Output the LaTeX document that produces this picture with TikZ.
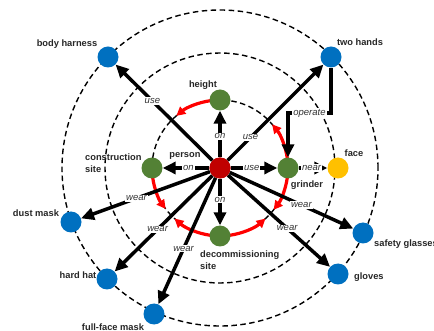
\documentclass[tikz,border=0pt]{standalone}
\usepackage{fontspec}
\setmainfont{Liberation Sans}
\usetikzlibrary{arrows.meta}
\definecolor{cred}{HTML}{C00000}
\definecolor{cgreen}{HTML}{538135}
\definecolor{cblue}{HTML}{0070C0}
\definecolor{cyellow}{HTML}{FFC000}
\definecolor{cline}{HTML}{FF0000}
\begin{document}
\begin{tikzpicture}[x=1pt,y=-1pt,
  dot/.style={circle,minimum size=21pt,inner sep=0pt},
  pers/.style={dot,fill=cred},
  ctx/.style={dot,fill=cgreen},
  ppe/.style={dot,fill=cblue},
  haz/.style={dot,fill=cyellow},
  dashcirc/.style={line width=1.4pt,dash pattern=on 5.5pt off 3.5pt},
  arr/.style={line width=3.5pt,-{Triangle[length=13pt,width=12pt]}},
  redarr/.style={line width=3.2pt,draw=cline,-{Triangle[length=9pt,width=9pt]}},
  lab/.style={fill=white,inner sep=1pt,font=\fontsize{9.5}{11}\selectfont\itshape,text=black!80},
  ttl/.style={inner sep=0pt,font=\fontsize{9.3}{12.5}\selectfont\bfseries,text=black!85}]
\useasboundingbox (0,0) rectangle (434,331);
\coordinate (C) at (220,168);
% dashed circles
\draw[dashcirc] (C) circle[radius=158pt];
\draw[dashcirc] (C) circle[radius=115pt];
\draw[dashcirc] (C) circle[radius=68pt];
% red arcs
\draw[redarr] ([shift={(98:68pt)}]C) arc[start angle=98,end angle=130,radius=68pt];
\draw[redarr] ([shift={(188:68pt)}]C) arc[start angle=188,end angle=217,radius=68pt];
\draw[redarr] ([shift={(262:68pt)}]C) arc[start angle=262,end angle=228,radius=68pt];
\draw[redarr] ([shift={(278:68pt)}]C) arc[start angle=278,end angle=312,radius=68pt];
\draw[redarr] ([shift={(-8:68pt)}]C) arc[start angle=-8,end angle=-38,radius=68pt];
\draw[redarr] ([shift={(8:68pt)}]C) arc[start angle=8,end angle=40,radius=68pt];
% nodes
\node[pers] (P) at (C) {};
\node[ctx] (H) at (220,100) {};
\node[ctx] (CS) at (152,168) {};
\node[ctx] (G) at (288,168) {};
\node[ctx] (D) at (220,236) {};
\node[haz] (F) at (338,168) {};
\node[ppe] (BH) at (108,57) {};
\node[ppe] (TH) at (331,57) {};
\node[ppe] (DM) at (71,222) {};
\node[ppe] (HH) at (107,279) {};
\node[ppe] (FF) at (154,314) {};
\node[ppe] (SG) at (363,233) {};
\node[ppe] (GL) at (338,274) {};
% connectors
\draw[arr] (P) -- (H) node[lab,pos=0.45]{on};
\draw[arr] (P) -- (CS) node[lab,pos=0.45]{on};
\draw[arr] (P) -- (G) node[lab,pos=0.45]{use};
\draw[arr] (P) -- (D) node[lab,pos=0.45]{on};
\draw[arr] (P) -- (BH) node[lab,pos=0.62]{use};
\draw[arr] (P) -- (TH) node[lab,pos=0.24]{use};
\draw[arr] (P) -- (DM) node[lab,pos=0.57]{wear};
\draw[arr] (P) -- (HH) node[lab,pos=0.56]{wear};
\draw[arr] (P) -- (FF) node[lab,pos=0.56]{wear};
\draw[arr] (P) -- (SG) node[lab,pos=0.58]{wear};
\draw[arr] (P) -- (GL) node[lab,pos=0.58]{wear};
\draw[arr] (G) -- (F) node[lab,pos=0.45]{near};
\coordinate (OPC) at (331,113);
\draw[arr] (TH.south) -- (OPC) -| (G.north) node[lab,pos=0.25]{operate};
\node[pers] at (P) {};
% titles
\node[ttl] (tBH) at (67,44) {body harness};
\node[ttl] (tTH) at (360,42) {two hands};
\node[ttl] (tH) at (203,85) {height};
\node[ttl,align=left,anchor=west] (tCS) at (85,163) {construction\\site};
\node[ttl] (tP) at (185,156) {person};
\node[ttl] (tG) at (307,185) {grinder};
\node[ttl] (tF) at (354,153) {face};
\node[ttl,align=left,anchor=west] (tD) at (200,260) {decommissioning\\site};
\node[ttl] (tDM) at (36,213) {dust mask};
\node[ttl] (tHH) at (78,275) {hard hat};
\node[ttl] (tFF) at (113,327) {full-face mask};
\node[ttl,anchor=west] (tSG) at (374,244) {safety glasses};
\node[ttl,anchor=west] (tGL) at (354,277) {gloves};
\end{tikzpicture}
\end{document}
